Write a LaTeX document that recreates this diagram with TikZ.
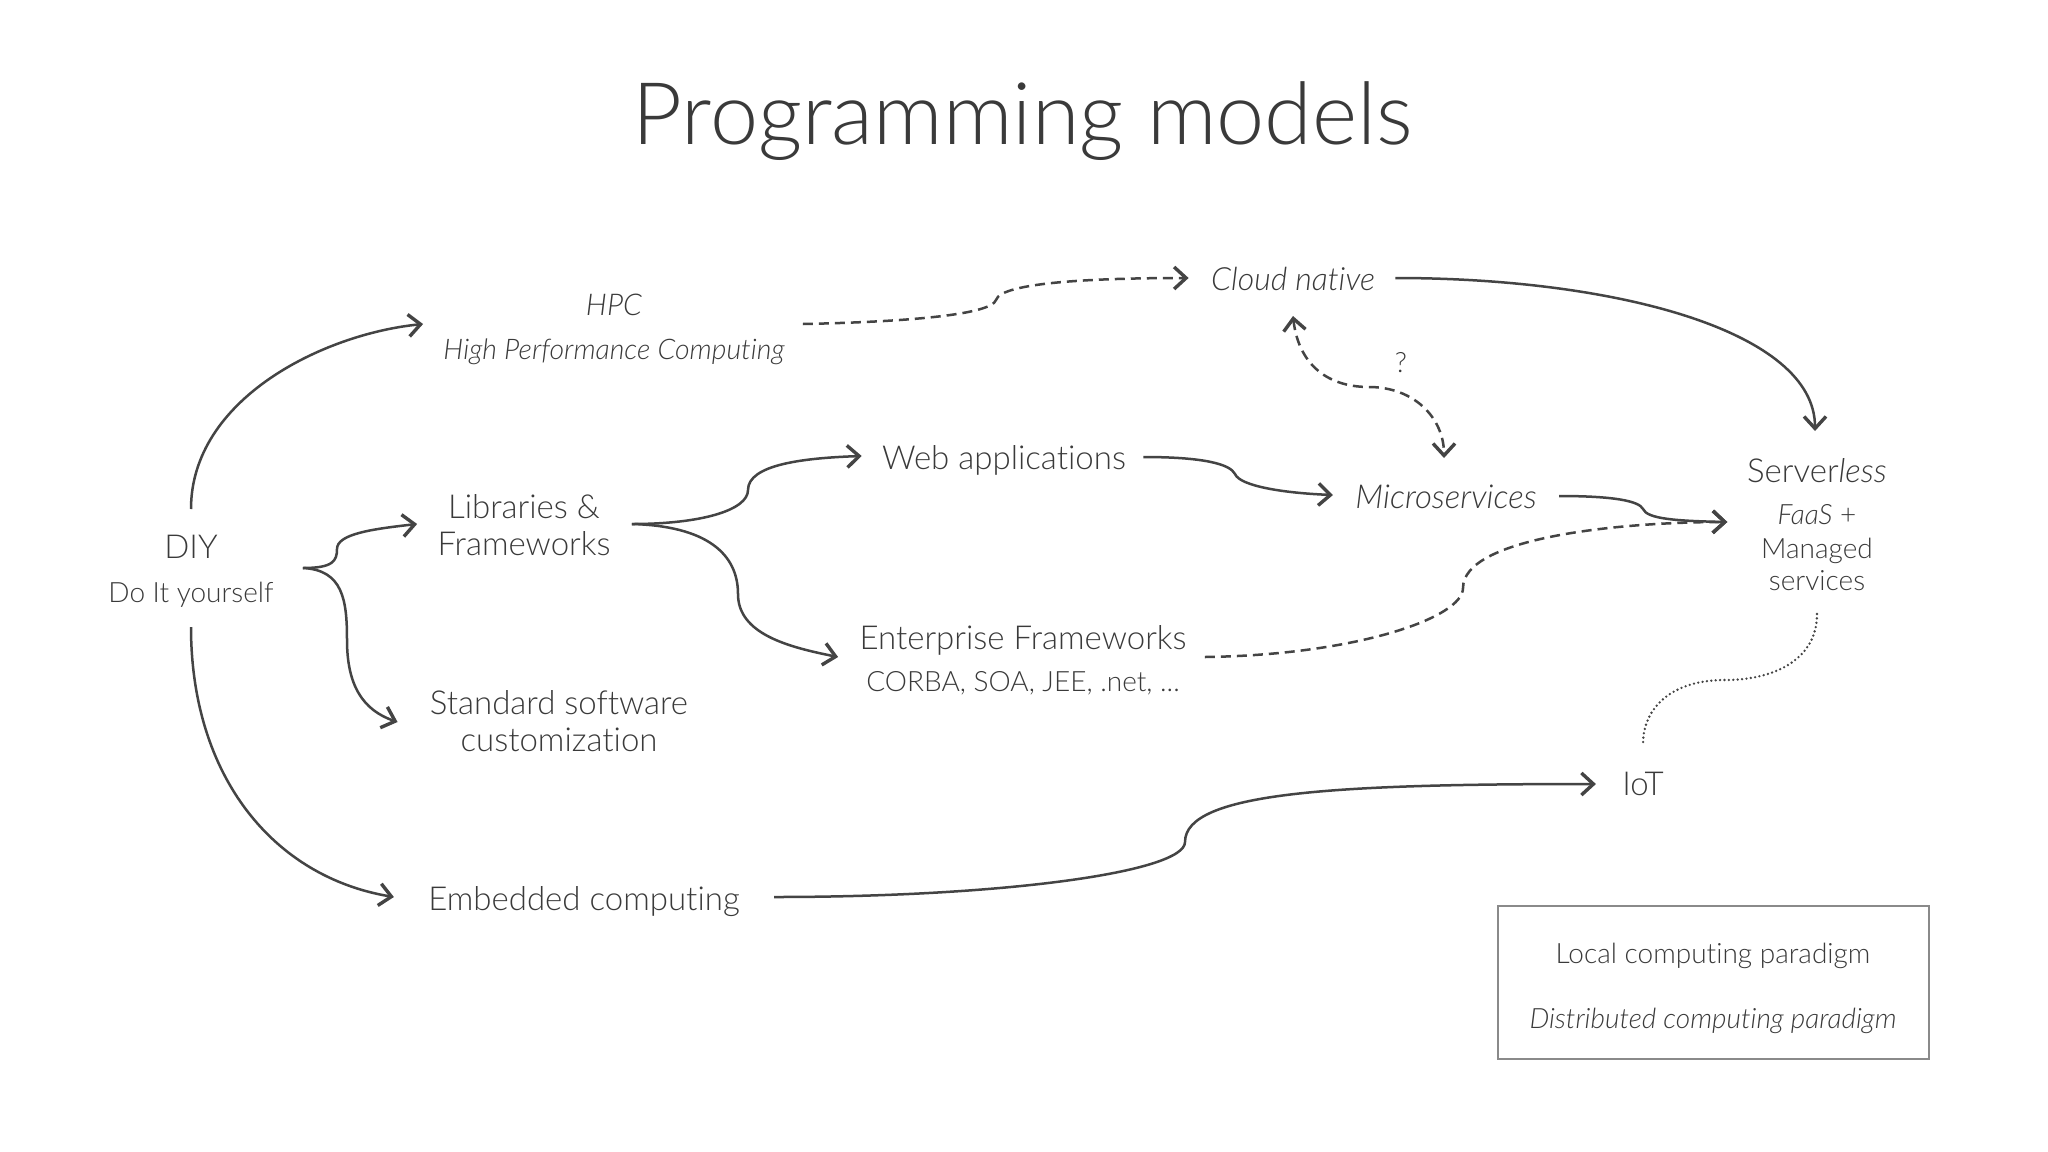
\documentclass[tikz,border=0pt]{standalone}
\usepackage{fontspec}
\setmainfont{Lato Light}[ItalicFont={Lato Light Italic}, Ligatures=NoCommon]
\usetikzlibrary{arrows.meta}
\definecolor{ink}{HTML}{3A3A3A}
\definecolor{lineink}{HTML}{444444}
\definecolor{boxline}{HTML}{8A8A8A}
\begin{document}
\begin{tikzpicture}[x=0.5pt,y=-0.5pt,
  lbl/.style={text=ink, inner sep=0pt, anchor=base, font=\fontsize{16.5}{20}\selectfont},
  sublbl/.style={lbl, font=\fontsize{14}{17}\selectfont},
  titlelbl/.style={lbl, font=\fontsize{43.2}{50}\selectfont},
  tipb/.tip={Straight Barb[length=6pt,width=11pt,line width=1.7pt]},
  conn/.style={draw=lineink, line width=1.25pt, -tipb},
  dconn/.style={conn, dash pattern=on 5pt off 3pt},
  dotconn/.style={draw=lineink, line width=1.3pt, line cap=round, dash pattern=on 0pt off 2.2pt},
]
\useasboundingbox (0,0) rectangle (2048,1151);
\fill[white] (0,0) rectangle (2048,1151);

\node[titlelbl] (title) at (1023,144) {Programming models};

\node[lbl] (diy) at (191,558) {DIY};
\node[sublbl] (diysub) at (191,602) {Do It yourself};

\node[lbl, font=\fontsize{15}{18}\selectfont\itshape] (hpc) at (614,315) {HPC};
\node[sublbl, font=\fontsize{14.2}{17}\selectfont\itshape] (hpcsub) at (614,359) {High Performance Computing};

\node[lbl] (libs1) at (524,518) {Libraries \&};
\node[lbl] (libs2) at (524,555) {Frameworks};

\node[lbl] (std1) at (559,714) {Standard software};
\node[lbl] (std2) at (559,751) {customization};

\node[lbl] (emb) at (584,910) {Embedded computing};

\node[lbl, font=\fontsize{16}{19}\selectfont\itshape] (cloud) at (1293,290) {Cloud native};
\node[sublbl] (q) at (1401,372) {?};

\node[lbl] (web) at (1004,469) {Web applications};
\node[lbl, font=\fontsize{16.5}{20}\selectfont\itshape] (micro) at (1446,508) {Microservices};

\node[lbl] (ent) at (1023,649) {Enterprise Frameworks};
\node[sublbl] (corba) at (1023,691) {CORBA, SOA, JEE, .net, ...};

\node[lbl] (srv) at (1817,482) {Server\textit{less}};
\node[sublbl] (faas) at (1817,524) {\textit{FaaS} +};
\node[sublbl] (managed) at (1817,558) {Managed};
\node[sublbl] (services) at (1817,590) {services};

\node[lbl] (iot) at (1643,795) {IoT};

\node[draw=boxline, line width=0.8pt, minimum width=215.5pt, minimum height=76.5pt, inner sep=0pt] (legend) at (1713.5,982.5) {};
\node[sublbl] (local) at (1713,963) {Local computing paradigm};
\node[sublbl, font=\fontsize{14}{17}\selectfont\itshape] (distr) at (1713,1028) {Distributed computing paradigm};

% DIY -> HPC
\draw[conn] ([shift={(0,-49)}]diy.base) .. controls +(0,-110) and +(-100,10) .. ([shift={(-20,-35)}]hpcsub.base west);
% DIY -> Libraries
\draw[conn] ([shift={(29,-34)}]diysub.base east) .. controls +(30,0) and +(0,12) .. (337,549) .. controls +(0,-15) and +(-45,5) .. ([shift={(-20,-31)}]libs2.base west);
% DIY -> Standard software
\draw[conn] ([shift={(29,-34)}]diysub.base east) .. controls +(40,2) and +(0,-40) .. (347,640) .. controls +(0,45) and +(-35,-12) .. ([shift={(-32,8)}]std1.base west);
% DIY -> Embedded
\draw[conn] ([shift={(0,25)}]diysub.base) .. controls +(0,150) and +(-120,-20) .. ([shift={(-34,-13)}]emb.base west);
% Libraries -> Web
\draw[conn] ([shift={(21,-31)}]libs2.base east) .. controls +(70,0) and +(0,20) .. (748,490) .. controls +(0,-25) and +(-60,2) .. ([shift={(-20,-13)}]web.base west);
% Libraries -> Enterprise
\draw[conn] ([shift={(21,-31)}]libs2.base east) .. controls +(75,2) and +(0,-40) .. (738,594) .. controls +(0,40) and +(-50,-10) .. ([shift={(-21,8)}]ent.base west);
% Web -> Microservices
\draw[conn] ([shift={(17,-12)}]web.base east) .. controls +(60,0) and +(-5,-10) .. (1235,474) .. controls +(5,12) and +(-50,-2) .. ([shift={(-22,-13)}]micro.base west);
% Microservices -> Serverless
\draw[conn] ([shift={(22,-12)}]micro.base east) .. controls +(55,0) and +(-4,-8) .. (1643,509) .. controls +(4,10) and +(-50,-1) .. ([shift={(-50,-2)}]faas.base west);
% HPC -> Cloud native
\draw[dconn] ([shift={(18,-35)}]hpcsub.base east) .. controls +(100,-2) and +(-5,15) .. (996,300) .. controls +(5,-18) and +(-90,0) .. ([shift={(-22,-12)}]cloud.base west);
% Cloud native -> Serverless
\draw[conn] ([shift={(20,-12)}]cloud.base east) .. controls +(220,0) and +(0,-100) .. ([shift={(-2,-51)}]srv.base);
% Cloud native <-> Microservices
\draw[dconn, tipb-tipb] ([shift={(0,26)}]cloud.base) .. controls +(5,45) and +(-45,0) .. (1369,387) .. controls +(45,0) and +(0,-40) .. ([shift={(-2,-50)}]micro.base);
% Enterprise -> Serverless
\draw[dconn] ([shift={(18,8)}]ent.base east) .. controls +(150,-2) and +(0,30) .. (1463,588) .. controls +(0,-50) and +(-110,0) .. ([shift={(-50,-2)}]faas.base west);
% Serverless ... IoT
\draw[dotconn] ([shift={(0,24)}]services.base) .. controls +(0,45) and +(50,0) .. (1725,680) .. controls +(-55,0) and +(0,-35) .. ([shift={(0,-51)}]iot.base);
% Embedded -> IoT
\draw[conn] ([shift={(34,-13)}]emb.base east) .. controls +(230,0) and +(0,30) .. (1185,842) .. controls +(0,-50) and +(-260,0) .. ([shift={(-26,-11)}]iot.base west);
\end{tikzpicture}
\end{document}
